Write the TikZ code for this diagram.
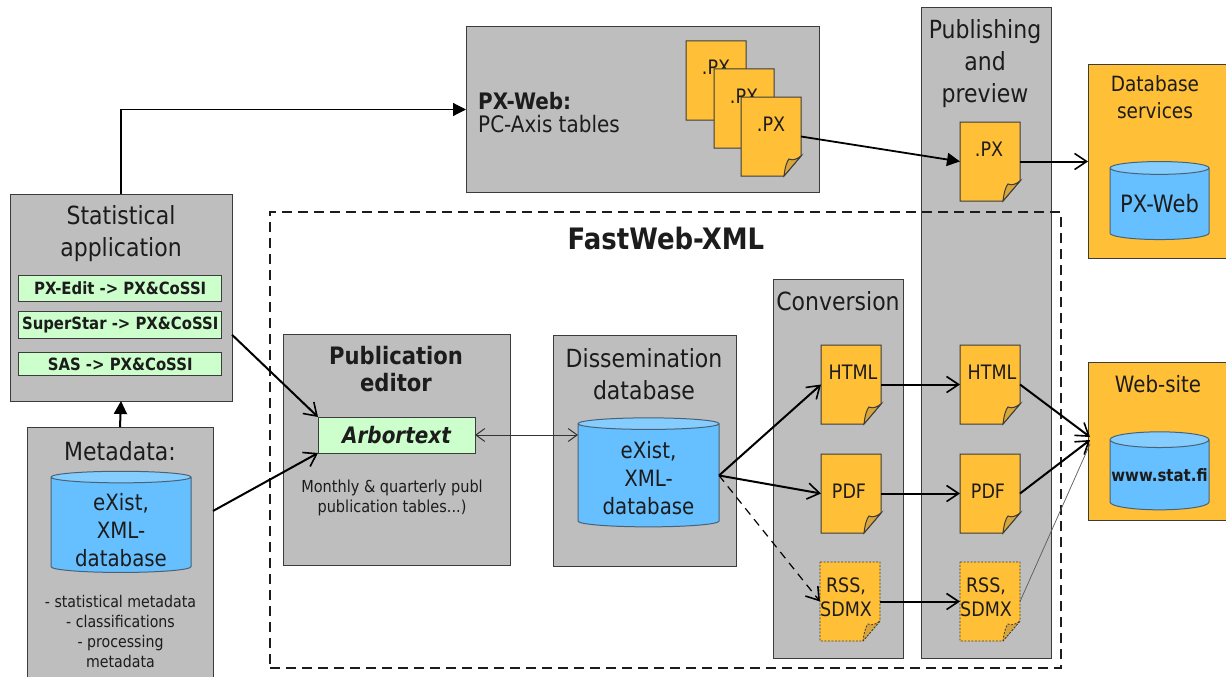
\documentclass[tikz,border=0pt]{standalone}
\usepackage{fontspec}
\setmainfont{DejaVu Sans}[FakeStretch=0.88]
\usetikzlibrary{arrows.meta,shapes.geometric,calc}
\definecolor{panelgray}{HTML}{BEBEBE}
\definecolor{edgegray}{HTML}{3C3C3C}
\definecolor{docorange}{HTML}{FFBF36}
\definecolor{foldorange}{HTML}{D9A63A}
\definecolor{dbblue}{HTML}{66BFFF}
\definecolor{dbtop}{HTML}{85CCFF}
\definecolor{mint}{HTML}{CCFFCC}
\definecolor{inkdark}{HTML}{1C1C1C}
\newcommand{\fsz}[2]{\fontsize{#1}{#2}\selectfont}
\tikzset{
  panel/.style={draw=edgegray,line width=1pt,fill=panelgray,anchor=north west,inner sep=0pt,outer sep=0pt},
  orangepanel/.style={panel,fill=docorange},
  mintbox/.style={draw=edgegray,line width=1pt,fill=mint,inner sep=0pt,outer sep=0pt,font=\bfseries\fsz{16.9}{18},text=inkdark},
  txt/.style={text=inkdark,align=center,inner sep=0pt},
  title/.style={txt,font=\fsz{25}{32}},
  dbcyl/.style={cylinder,shape border rotate=90,aspect=#1,draw=edgegray!70!dbblue,line width=1pt,cylinder uses custom fill,cylinder body fill=dbblue,cylinder end fill=dbtop,inner sep=0pt,outer sep=0pt,text=inkdark,align=center,font=\fsz{22.5}{28}},
  docslot/.style={anchor=north west,minimum width=60pt,minimum height=79pt,inner sep=0pt,outer sep=0pt},
  doctxt/.style={txt,font=\fsz{19.9}{24}},
  sheet/.style={draw=edgegray,line width=1pt,fill=docorange},
  dashsheet/.style={draw=edgegray,line width=.8pt,dash pattern=on 2pt off 1.5pt,fill=docorange},
  open/.style={-{Straight Barb[length=12pt,width=16pt,line width=1.6pt]},line width=#1,draw=black},
  open/.default=2pt,
  solidtip/.style={-{Triangle[length=13pt,width=13pt]},line width=#1,draw=black},
  solidtip/.default=1.6pt
}
% name, left, top, sheet style
\newcommand{\docpage}[4]{%
  \path[#4] (#2,#3) -- ({#2+60},#3) -- ({#2+60},{#3+59}) -- ({#2+43},{#3+79}) -- (#2,{#3+79}) -- cycle;
  \path[#4,fill=foldorange] ({#2+43},{#3+79}) .. controls ({#2+44},{#3+70}) and ({#2+46},{#3+64}) .. ({#2+48},{#3+62}) .. controls ({#2+52},{#3+64}) and ({#2+56},{#3+62}) .. ({#2+60},{#3+59}) -- cycle;
  \node[docslot] (#1) at (#2,#3) {};
}
\begin{document}
\begin{tikzpicture}[x=1pt,y=-1pt]
\useasboundingbox (0,0) rectangle (1226,677);
\clip (0,0) rectangle (1226,677);
\fill[white] (0,0) rectangle (1226,677);

% panels
\node[panel,minimum width=353pt,minimum height=165pt] (pxweb) at (466,27) {};
\node[panel,minimum width=130pt,minimum height=650pt] (publish) at (921,8) {};
\node[panel,minimum width=130pt,minimum height=379pt] (convert) at (773,279) {};
\node[panel,minimum width=222pt,minimum height=207pt] (stat) at (10,194) {};
\node[panel,minimum width=186pt,minimum height=260pt] (meta) at (27,427) {};
\node[panel,minimum width=227pt,minimum height=231pt] (pubed) at (283,334) {};
\node[panel,minimum width=183pt,minimum height=231pt] (dissem) at (553,335) {};
\node[orangepanel,minimum width=142pt,minimum height=193pt] (dbserv) at (1088,65) {};
\node[orangepanel,minimum width=142pt,minimum height=158pt] (website) at (1088,362) {};

% FastWeb-XML frame
\node[draw=inkdark,line width=1.6pt,dash pattern=on 10pt off 6pt,anchor=north west,minimum width=791pt,minimum height=456pt,inner sep=0pt,outer sep=0pt] (frame) at (270,212) {};
\node[txt,font=\bfseries\fsz{29.5}{30}] (frametitle) at (666,238) {FastWeb-XML};

% titles
\node[title] (stattitle) at (121,234) {Statistical\\application};
\node[title] (metatitle) at (120,451) {Metadata:};
\node[title] (dissemtitle) at (644,374) {Dissemination\\database};
\node[title] (converttitle) at (838,301) {Conversion};
\node[title] (publishtitle) at (985,64) {Publishing\\and\\preview};
\node[txt,font=\bfseries\fsz{24}{27}] (pubedtitle) at (396,369) {Publication\\editor};
\node[txt,anchor=west,align=left,font=\fsz{22.7}{23}] (pxwebtitle) at (478,113) {\textbf{PX-Web:}\\PC-Axis tables};
\node[txt,font=\fsz{21}{27}] (dbservtitle) at (1155,97) {Database\\services};
\node[txt,font=\fsz{22.5}{25}] (websitetitle) at (1158,384) {Web-site};

% green boxes
\node[mintbox,minimum width=203.5pt,minimum height=26pt] (pxedit) at (120.2,288) {PX-Edit -> PX\&CoSSI};
\node[mintbox,minimum width=203.5pt,minimum height=27pt] (superstar) at (120.2,324.5) {SuperStar -> PX\&CoSSI};
\node[mintbox,minimum width=203.5pt,minimum height=23pt] (sas) at (120.2,364) {SAS -> PX\&CoSSI};
\node[mintbox,minimum width=157pt,minimum height=36pt,font=\bfseries\itshape\fsz{22.7}{24}] (arbortext) at (396.5,435) {Arbortext};

% captions
\node[txt,font=\fsz{16.1}{20}] (metacaption) at (120.5,631) {- statistical metadata\\- classifications\\- processing\\metadata};
\node[txt,font=\fsz{16.5}{20}] (pubedcaption) at (392,498) {Monthly \& quarterly publ\\publication tables...)};

% databases
\node[dbcyl=.126,minimum width=140pt,minimum height=100pt] (metadb) at (121,525) {\rule{0pt}{27pt}eXist,\\XML-\\database};
\node[dbcyl=.126,minimum width=141pt,minimum height=109pt] (dissdb) at (648.5,475.5) {\rule{0pt}{22pt}eXist,\\XML-\\database};
\node[dbcyl=.163,minimum width=99pt,minimum height=78pt,font=\fsz{23.9}{26}] (pxdb) at (1159.5,204) {PX-Web};
\node[dbcyl=.163,minimum width=99pt,minimum height=78pt,font=\bfseries\fsz{17}{20}] (webdb) at (1159.5,475) {www.stat.fi};

% documents
\docpage{stacka}{686}{41}{sheet}
\node[doctxt] (stackatxt) at (716,67) {.PX};
\docpage{stackb}{714}{69}{sheet}
\node[doctxt] (stackbtxt) at (744,96) {.PX};
\docpage{stackc}{741}{97}{sheet}
\node[doctxt] (stackctxt) at (771,124) {.PX};
\docpage{pubpx}{960}{122}{sheet}
\node[doctxt] (pubpxtxt) at (989,149) {.PX};
\docpage{convhtml}{821}{345}{sheet}
\node[doctxt] (convhtmltxt) at (853,372) {HTML};
\docpage{convpdf}{821}{454}{sheet}
\node[doctxt] (convpdftxt) at (849,491) {PDF};
\docpage{convrss}{820}{562}{dashsheet}
\node[doctxt] (convrsstxt) at (846,597) {RSS,\\SDMX};
\docpage{pubhtml}{960}{345}{sheet}
\node[doctxt] (pubhtmltxt) at (992,372) {HTML};
\docpage{pubpdf}{960}{454}{sheet}
\node[doctxt] (pubpdftxt) at (988,491) {PDF};
\docpage{pubrss}{960}{562}{dashsheet}
\node[doctxt] (pubrsstxt) at (986,597) {RSS,\\SDMX};

% connector ends
\coordinate (statout) at ($(stat.north east)!.68!(stat.south east)$);
\coordinate (metaout) at ($(meta.north east)!.323!(meta.south east)$);
\coordinate (statup) at (stat.north);
\coordinate (webin) at ($(website.north west)!.5!(website.south west)$);
\coordinate (webina) at ($(webin)+(2,-4)$);
\coordinate (webinb) at ($(webin)+(2,-1)$);
\coordinate (webinc) at ($(webin)+(2,3)$);
\coordinate (dissin) at (dissdb.west |- arbortext.east);

% connectors
\draw[solidtip=1.2pt] (statup) |- (pxweb.west);
\draw[solidtip=2pt] (meta.north) -- (stat.south);
\draw[open] (statout) -- (arbortext.north west);
\draw[open] (metaout) -- (arbortext.south west);
\draw[{Straight Barb[length=9pt,width=13pt,line width=1pt]}-{Straight Barb[length=9pt,width=13pt,line width=1pt]},line width=1pt,black!80] (arbortext.east) -- (dissin);
\draw[open] (dissdb.east) -- (convhtml.west);
\draw[open] (dissdb.east) -- (convpdf.west);
\draw[open=1.2pt,dash pattern=on 8pt off 6pt] (dissdb.east) -- (convrss.west);
\draw[open] (convhtml.east) -- (pubhtml.west);
\draw[open] (convpdf.east) -- (pubpdf.west);
\draw[open] (convrss.east) -- (pubrss.west);
\draw[open] (pubhtml.east) -- (webina);
\draw[open] (pubpdf.east) -- (webinb);
\draw[line width=.7pt,draw=black!65] (pubrss.east) -- (webinc);
\draw[solidtip=1.8pt] (stackc.east) -- (pubpx.west);
\draw[open] (pubpx.east) -- (dbserv.west |- pubpx.east);
\end{tikzpicture}
\end{document}
